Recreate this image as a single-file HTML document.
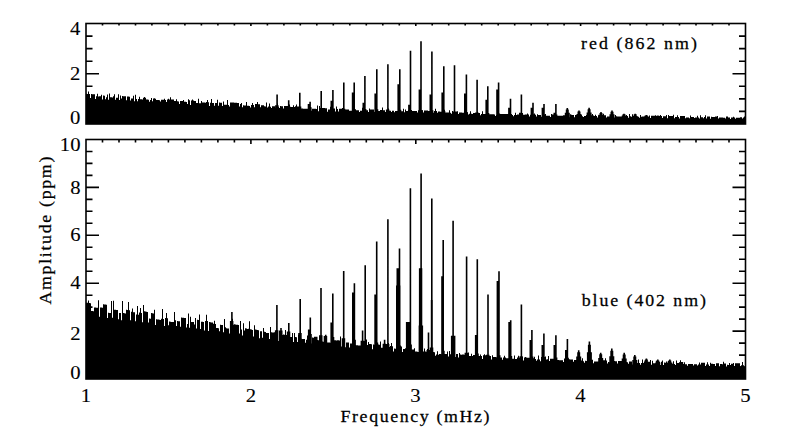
<!DOCTYPE html>
<html><head><meta charset="utf-8"><style>
html,body{margin:0;padding:0;background:#fff;}
svg{display:block;}
text{font-family:"Liberation Serif", serif;fill:#000;}
</style></head><body>
<svg width="797" height="438" viewBox="0 0 797 438">
<rect width="797" height="438" fill="#fff"/>
<path d="M86.0,124.0V93.8H87.0V93.9H88.0V91.5H89.0V94.0H90.0V98.4H91.0V94.1H92.0V94.2H93.0V94.3H94.0V94.3H95.0V99.0H96.0V96.3H97.0V93.7H98.0V96.4H99.0V96.2H100.0V96.3H101.0V94.7H102.0V99.4H103.0V95.6H104.0V95.7H105.0V99.2H106.0V97.3H107.0V94.4H108.0V99.7H109.0V93.6H110.0V97.3H111.0V97.3H112.0V97.4H113.0V96.2H114.0V94.3H115.0V99.7H116.0V97.8H117.0V97.8H118.0V94.2H119.0V99.9H120.0V95.6H121.0V98.5H122.0V96.1H123.0V96.2H124.0V96.2H125.0V96.3H126.0V100.3H127.0V96.5H128.0V96.6H129.0V96.7H130.0V100.5H131.0V98.4H132.0V98.5H133.0V95.7H134.0V101.2H135.0V94.8H136.0V99.0H137.0V101.3H138.0V99.1H139.0V96.8H140.0V99.2H141.0V99.3H142.0V99.4H143.0V97.7H144.0V97.0H145.0V97.8H146.0V99.5H147.0V99.6H148.0V99.7H149.0V101.7H150.0V100.0H151.0V98.0H152.0V101.3H153.0V98.6H154.0V98.2H155.0V98.7H156.0V100.0H157.0V100.1H158.0V100.1H159.0V100.2H160.0V101.6H161.0V99.7H162.0V99.7H163.0V99.8H164.0V98.7H165.0V99.9H166.0V102.1H167.0V99.4H168.0V98.8H169.0V99.5H170.0V97.3H171.0V99.5H172.0V99.6H173.0V99.6H174.0V101.1H175.0V101.1H176.0V99.2H177.0V101.3H178.0V101.4H179.0V104.0H180.0V101.0H181.0V101.1H182.0V101.1H183.0V100.0H184.0V101.8H185.0V101.8H186.0V101.9H187.0V103.9H188.0V99.2H189.0V100.2H190.0V105.0H191.0V100.4H192.0V99.5H193.0V100.5H194.0V100.9H195.0V101.0H196.0V103.0H197.0V103.1H198.0V98.8H199.0V103.2H200.0V103.3H201.0V101.0H202.0V102.5H203.0V102.6H204.0V102.6H205.0V102.7H206.0V102.1H207.0V99.9H208.0V102.2H209.0V106.0H210.0V102.8H211.0V99.0H212.0V102.9H213.0V103.0H214.0V105.8H215.0V103.1H216.0V103.1H217.0V99.7H218.0V105.8H219.0V102.6H220.0V102.7H221.0V102.7H222.0V106.1H223.0V101.4H224.0V104.7H225.0V104.8H226.0V104.8H227.0V99.9H228.0V104.9H229.0V106.4H230.0V102.5H231.0V102.5H232.0V102.6H233.0V102.6H234.0V102.7H235.0V102.8H236.0V102.8H237.0V102.9H238.0V102.9H239.0V106.5H240.0V103.9H241.0V103.0H242.0V107.2H243.0V105.3H244.0V105.4H245.0V105.4H246.0V102.1H247.0V105.8H248.0V105.8H249.0V105.9H250.0V107.5H251.0V105.0H252.0V102.9H253.0V105.0H254.0V107.2H255.0V104.0H256.0V104.1H257.0V102.1H258.0V104.2H259.0V104.2H260.0V107.3H261.0V105.2H262.0V105.3H263.0V105.3H264.0V106.3H265.0V106.4H266.0V102.5H267.0V107.4H268.0V106.6H269.0V103.5H270.0V106.7H271.0V108.1H272.0V106.2H273.0V106.2H274.0V106.3H275.0V107.8H276.0V106.7H277.0V103.4H278.0V106.8H279.0V108.1H280.0V106.1H281.0V106.2H282.0V106.3H283.0V108.4H284.0V106.0H285.0V106.0H286.0V106.1H287.0V108.3H288.0V106.9H289.0V104.6H290.0V107.0H291.0V107.1H292.0V106.9H293.0V105.2H294.0V107.0H295.0V106.3H296.0V104.4H297.0V106.4H298.0V106.5H299.0V106.5H300.0V109.4H301.0V108.5H302.0V108.6H303.0V108.7H304.0V108.7H305.0V108.8H306.0V108.8H307.0V108.8H308.0V108.9H309.0V106.4H310.0V109.0H311.0V110.7H312.0V108.7H313.0V108.7H314.0V108.7H315.0V108.8H316.0V108.9H317.0V105.6H318.0V111.2H319.0V106.1H320.0V107.9H321.0V108.0H322.0V108.0H323.0V108.1H324.0V108.1H325.0V108.2H326.0V108.3H327.0V111.7H328.0V109.4H329.0V109.5H330.0V106.8H331.0V111.6H332.0V108.6H333.0V108.6H334.0V108.6H335.0V111.6H336.0V106.6H337.0V108.9H338.0V111.4H339.0V108.7H340.0V108.7H341.0V108.7H342.0V108.1H343.0V111.6H344.0V109.4H345.0V109.4H346.0V109.4H347.0V109.4H348.0V109.5H349.0V110.7H350.0V110.7H351.0V110.8H352.0V112.0H353.0V109.7H354.0V109.7H355.0V109.7H356.0V110.2H357.0V110.2H358.0V110.3H359.0V112.0H360.0V110.8H361.0V110.8H362.0V107.8H363.0V110.8H364.0V110.8H365.0V112.1H366.0V110.3H367.0V110.3H368.0V112.0H369.0V108.6H370.0V109.6H371.0V109.6H372.0V109.6H373.0V109.6H374.0V111.9H375.0V110.8H376.0V108.0H377.0V110.9H378.0V110.9H379.0V110.9H380.0V110.1H381.0V110.1H382.0V107.6H383.0V110.2H384.0V110.2H385.0V112.0H386.0V110.6H387.0V110.6H388.0V108.5H389.0V110.7H390.0V110.7H391.0V112.0H392.0V110.8H393.0V110.8H394.0V112.2H395.0V111.0H396.0V111.1H397.0V111.1H398.0V112.4H399.0V111.2H400.0V111.2H401.0V111.3H402.0V111.3H403.0V108.7H404.0V112.2H405.0V109.6H406.0V110.9H407.0V110.9H408.0V110.2H409.0V110.2H410.0V110.2H411.0V112.2H412.0V111.1H413.0V111.1H414.0V111.1H415.0V111.1H416.0V111.1H417.0V112.6H418.0V110.2H419.0V110.3H420.0V110.3H421.0V110.3H422.0V110.3H423.0V112.5H424.0V110.4H425.0V110.4H426.0V110.5H427.0V110.5H428.0V111.1H429.0V111.1H430.0V111.2H431.0V108.5H432.0V111.3H433.0V112.7H434.0V111.0H435.0V108.8H436.0V111.1H437.0V112.8H438.0V111.6H439.0V111.6H440.0V111.7H441.0V111.7H442.0V111.8H443.0V113.6H444.0V109.7H445.0V112.6H446.0V112.6H447.0V112.6H448.0V112.6H449.0V110.3H450.0V112.7H451.0V113.8H452.0V110.9H453.0V111.8H454.0V111.4H455.0V111.5H456.0V111.5H457.0V111.3H458.0V114.1H459.0V112.5H460.0V112.6H461.0V112.6H462.0V112.7H463.0V112.7H464.0V114.3H465.0V112.9H466.0V113.0H467.0V113.0H468.0V114.5H469.0V113.7H470.0V111.3H471.0V113.8H472.0V113.9H473.0V112.9H474.0V112.9H475.0V113.0H476.0V112.8H477.0V111.7H478.0V112.9H479.0V113.0H480.0V115.3H481.0V113.9H482.0V111.3H483.0V114.0H484.0V114.1H485.0V114.1H486.0V115.6H487.0V114.1H488.0V114.1H489.0V114.2H490.0V114.2H491.0V114.2H492.0V114.3H493.0V114.3H494.0V114.4H495.0V116.0H496.0V114.9H497.0V114.9H498.0V115.0H499.0V115.0H500.0V113.9H501.0V113.9H502.0V113.9H503.0V113.9H504.0V113.9H505.0V114.1H506.0V114.1H507.0V114.1H508.0V114.2H509.0V116.3H510.0V115.1H511.0V115.1H512.0V115.1H513.0V116.2H514.0V114.9H515.0V112.8H516.0V115.0H517.0V114.5H518.0V114.5H519.0V114.5H520.0V114.5H521.0V116.6H522.0V113.1H523.0V114.8H524.0V114.8H525.0V114.6H526.0V114.6H527.0V113.6H528.0V114.4H529.0V116.5H530.0V114.8H531.0V114.8H532.0V114.9H533.0V114.6H534.0V113.5H535.0V114.7H536.0V116.6H537.0V114.2H538.0V114.9H539.0V114.9H540.0V114.9H541.0V116.7H542.0V113.4H543.0V114.8H544.0V114.8H545.0V113.9H546.0V115.8H547.0V115.8H548.0V115.8H549.0V115.8H550.0V117.0H551.0V113.9H552.0V114.4H553.0V114.4H554.0V116.7H555.0V115.6H556.0V115.6H557.0V115.7H558.0V115.7H559.0V115.7H560.0V115.7H561.0V115.7H562.0V115.7H563.0V115.2H564.0V115.2H565.0V115.2H566.0V115.2H567.0V115.2H568.0V115.2H569.0V117.2H570.0V114.2H571.0V114.8H572.0V114.9H573.0V114.9H574.0V117.2H575.0V115.1H576.0V115.1H577.0V115.2H578.0V115.2H579.0V117.1H580.0V116.2H581.0V114.9H582.0V116.2H583.0V117.1H584.0V116.1H585.0V116.1H586.0V115.0H587.0V115.0H588.0V115.1H589.0V115.3H590.0V115.3H591.0V115.3H592.0V114.1H593.0V115.5H594.0V116.1H595.0V114.7H596.0V116.1H597.0V117.6H598.0V115.3H599.0V115.3H600.0V115.3H601.0V115.3H602.0V115.4H603.0V113.8H604.0V115.2H605.0V115.2H606.0V117.5H607.0V116.6H608.0V116.6H609.0V116.6H610.0V115.5H611.0V115.5H612.0V115.1H613.0V115.6H614.0V117.6H615.0V115.1H616.0V116.3H617.0V116.4H618.0V116.6H619.0V116.6H620.0V116.6H621.0V116.7H622.0V116.7H623.0V115.9H624.0V115.9H625.0V115.9H626.0V115.0H627.0V115.9H628.0V117.8H629.0V114.1H630.0V116.3H631.0V116.7H632.0V114.2H633.0V117.9H634.0V116.7H635.0V115.7H636.0V116.7H637.0V116.7H638.0V116.8H639.0V117.7H640.0V114.9H641.0V116.7H642.0V116.4H643.0V116.4H644.0V116.4H645.0V116.4H646.0V117.0H647.0V117.0H648.0V117.0H649.0V115.5H650.0V118.0H651.0V115.7H652.0V115.8H653.0V115.8H654.0V115.8H655.0V115.3H656.0V116.2H657.0V116.2H658.0V118.0H659.0V116.1H660.0V115.0H661.0V116.1H662.0V118.1H663.0V116.2H664.0V116.2H665.0V116.2H666.0V114.9H667.0V118.2H668.0V114.9H669.0V115.9H670.0V115.9H671.0V116.0H672.0V116.0H673.0V114.8H674.0V118.2H675.0V116.9H676.0V116.9H677.0V115.2H678.0V116.9H679.0V118.4H680.0V116.0H681.0V116.0H682.0V116.1H683.0V116.1H684.0V116.1H685.0V118.3H686.0V117.4H687.0V117.4H688.0V117.4H689.0V118.2H690.0V115.5H691.0V116.9H692.0V116.9H693.0V116.9H694.0V118.1H695.0V117.5H696.0V117.5H697.0V115.8H698.0V117.5H699.0V118.6H700.0V115.3H701.0V117.2H702.0V117.2H703.0V118.2H704.0V116.9H705.0V115.3H706.0V118.5H707.0V116.6H708.0V116.6H709.0V116.6H710.0V118.7H711.0V116.8H712.0V116.9H713.0V116.9H714.0V116.9H715.0V116.6H716.0V116.6H717.0V115.9H718.0V118.4H719.0V117.4H720.0V117.4H721.0V117.4H722.0V117.6H723.0V117.7H724.0V117.7H725.0V118.6H726.0V116.6H727.0V116.6H728.0V117.6H729.0V117.6H730.0V118.9H731.0V117.6H732.0V117.6H733.0V116.8H734.0V117.6H735.0V118.8H736.0V117.7H737.0V117.7H738.0V117.7H739.0V117.7H740.0V117.3H741.0V117.3H742.0V118.6H743.0V117.4H744.0V116.4H745.0V124.0ZM276.3,124.0V94.5H277.9V124.0ZM275.1,124.0V105.2H278.6V124.0ZM287.9,124.0V100.2H289.5V124.0ZM286.7,124.0V105.9H290.2V124.0ZM299.0,124.0V92.8H300.6V124.0ZM297.8,124.0V106.6H301.3V124.0ZM309.3,124.0V101.7H310.9V124.0ZM307.7,124.0V104.0H310.9V124.0ZM308.1,124.0V107.2H311.6V124.0ZM320.4,124.0V90.9H322.0V124.0ZM319.2,124.0V107.9H322.7V124.0ZM332.1,124.0V90.0H333.7V124.0ZM330.5,124.0V100.7H333.7V124.0ZM330.9,124.0V108.5H334.4V124.0ZM343.0,124.0V82.6H344.6V124.0ZM341.8,124.0V108.7H345.3V124.0ZM353.4,124.0V82.6H355.0V124.0ZM351.8,124.0V92.5H355.0V124.0ZM352.2,124.0V108.9H355.7V124.0ZM364.1,124.0V76.1H365.7V124.0ZM362.5,124.0V102.8H365.7V124.0ZM362.9,124.0V109.1H366.4V124.0ZM376.0,124.0V69.3H377.6V124.0ZM374.4,124.0V93.5H377.6V124.0ZM374.8,124.0V109.3H378.3V124.0ZM387.1,124.0V64.2H388.7V124.0ZM385.9,124.0V109.5H389.4V124.0ZM399.0,124.0V69.3H400.6V124.0ZM397.4,124.0V84.3H400.6V124.0ZM397.8,124.0V109.7H401.3V124.0ZM409.7,124.0V50.8H411.3V124.0ZM408.1,124.0V104.8H411.3V124.0ZM408.5,124.0V109.9H412.0V124.0ZM420.2,124.0V41.2H421.8V124.0ZM418.6,124.0V89.4H421.8V124.0ZM419.0,124.0V109.9H422.5V124.0ZM431.1,124.0V51.4H432.7V124.0ZM429.5,124.0V94.5H432.7V124.0ZM429.9,124.0V110.3H433.4V124.0ZM443.0,124.0V66.2H444.6V124.0ZM441.4,124.0V92.5H444.6V124.0ZM441.8,124.0V110.9H445.3V124.0ZM453.7,124.0V65.2H455.3V124.0ZM452.5,124.0V111.4H456.0V124.0ZM465.6,124.0V74.4H467.2V124.0ZM464.0,124.0V93.5H467.2V124.0ZM464.4,124.0V112.0H467.9V124.0ZM476.3,124.0V79.8H477.9V124.0ZM475.1,124.0V112.6H478.6V124.0ZM487.0,124.0V86.3H488.6V124.0ZM485.4,124.0V99.7H488.6V124.0ZM485.8,124.0V113.1H489.3V124.0ZM497.8,124.0V82.6H499.4V124.0ZM496.2,124.0V89.4H499.4V124.0ZM496.6,124.0V113.6H500.1V124.0ZM509.7,124.0V98.7H511.3V124.0ZM508.1,124.0V107.7H511.3V124.0ZM508.5,124.0V113.9H512.0V124.0ZM520.6,124.0V94.5H522.2V124.0ZM519.0,124.0V112.7H522.2V124.0ZM519.4,124.0V114.1H522.9V124.0ZM532.2,124.0V102.7H533.8V124.0ZM530.6,124.0V107.7H533.8V124.0ZM531.0,124.0V114.3H534.5V124.0ZM543.2,124.0V103.9H544.8V124.0ZM541.6,124.0V107.7H544.8V124.0ZM542.0,124.0V114.4H545.5V124.0ZM555.1,124.0V103.9H556.7V124.0ZM553.5,124.0V112.7H556.7V124.0ZM553.9,124.0V114.6H557.4V124.0ZM566.5,124.0V108.0H568.1V124.0ZM564.8,124.0V112.7H569.8V124.0ZM565.8,124.0V109.4H568.8V124.0ZM565.3,124.0V114.8H568.8V124.0ZM578.2,124.0V110.4H579.8V124.0ZM576.5,124.0V113.9H581.5V124.0ZM577.5,124.0V111.5H580.5V124.0ZM577.0,124.0V115.0H580.5V124.0ZM588.3,124.0V107.7H589.9V124.0ZM586.6,124.0V112.6H591.6V124.0ZM587.6,124.0V109.2H590.6V124.0ZM587.1,124.0V115.2H590.6V124.0ZM600.2,124.0V112.0H601.8V124.0ZM598.5,124.0V114.8H603.5V124.0ZM599.5,124.0V112.9H602.5V124.0ZM599.0,124.0V115.3H602.5V124.0ZM611.2,124.0V110.6H612.8V124.0ZM609.5,124.0V114.2H614.5V124.0ZM610.5,124.0V111.7H613.5V124.0ZM610.0,124.0V115.4H613.5V124.0ZM623.2,124.0V113.7H624.8V124.0ZM621.5,124.0V115.8H626.5V124.0ZM622.5,124.0V114.3H625.5V124.0ZM622.0,124.0V115.5H625.5V124.0ZM634.4,124.0V113.7H636.0V124.0ZM632.7,124.0V115.9H637.7V124.0ZM633.7,124.0V114.3H636.7V124.0ZM633.2,124.0V115.7H636.7V124.0ZM645.6,124.0V114.9H647.2V124.0ZM643.9,124.0V116.5H648.9V124.0ZM644.9,124.0V115.4H647.9V124.0ZM644.4,124.0V115.8H647.9V124.0ZM657.1,124.0V115.4H658.7V124.0ZM655.4,124.0V116.8H660.4V124.0ZM656.4,124.0V115.8H659.4V124.0ZM655.9,124.0V115.9H659.4V124.0Z" fill="#000"/>
<path d="M86.0,379.0V302.7H87.0V302.8H88.0V300.5H89.0V303.1H90.0V303.3H91.0V311.0H92.0V311.1H93.0V311.2H94.0V307.4H95.0V307.6H96.0V307.7H97.0V307.8H98.0V300.2H99.0V316.8H100.0V307.5H101.0V307.6H102.0V307.8H103.0V304.3H104.0V304.4H105.0V304.6H106.0V304.7H107.0V318.1H108.0V312.8H109.0V312.9H110.0V313.0H111.0V301.1H112.0V317.7H113.0V300.8H114.0V309.7H115.0V309.8H116.0V310.0H117.0V310.1H118.0V319.2H119.0V312.9H120.0V313.1H121.0V320.2H122.0V301.0H123.0V313.0H124.0V313.2H125.0V313.4H126.0V309.8H127.0V310.0H128.0V302.1H129.0V310.3H130.0V320.2H131.0V311.8H132.0V308.5H133.0V312.2H134.0V312.3H135.0V321.3H136.0V314.4H137.0V306.0H138.0V314.7H139.0V312.6H140.0V308.1H141.0V313.0H142.0V322.3H143.0V305.1H144.0V311.3H145.0V311.5H146.0V311.7H147.0V311.9H148.0V322.6H149.0V318.5H150.0V318.7H151.0V313.1H152.0V313.3H153.0V313.5H154.0V309.7H155.0V325.0H156.0V319.3H157.0V319.5H158.0V319.6H159.0V319.8H160.0V320.0H161.0V318.7H162.0V308.9H163.0V319.0H164.0V326.0H165.0V318.0H166.0V313.1H167.0V318.3H168.0V325.3H169.0V321.6H170.0V321.7H171.0V321.9H172.0V322.0H173.0V322.1H174.0V312.1H175.0V320.2H176.0V326.0H177.0V321.0H178.0V321.2H179.0V321.3H180.0V326.8H181.0V317.6H182.0V317.7H183.0V317.8H184.0V318.0H185.0V318.1H186.0V327.6H187.0V323.9H188.0V313.4H189.0V327.8H190.0V316.7H191.0V321.9H192.0V322.0H193.0V322.1H194.0V324.5H195.0V318.0H196.0V328.4H197.0V319.7H198.0V319.9H199.0V314.4H200.0V328.9H201.0V321.7H202.0V321.8H203.0V321.9H204.0V330.6H205.0V320.9H206.0V314.8H207.0V321.1H208.0V331.0H209.0V322.1H210.0V322.3H211.0V322.4H212.0V322.5H213.0V323.8H214.0V320.8H215.0V324.0H216.0V328.0H217.0V328.1H218.0V328.3H219.0V331.2H220.0V324.8H221.0V324.9H222.0V325.0H223.0V332.3H224.0V319.0H225.0V327.3H226.0V328.3H227.0V328.4H228.0V328.5H229.0V333.4H230.0V324.5H231.0V324.6H232.0V318.8H233.0V324.8H234.0V324.3H235.0V324.6H236.0V324.7H237.0V324.8H238.0V325.0H239.0V333.4H240.0V321.1H241.0V329.5H242.0V335.4H243.0V323.3H244.0V330.5H245.0V328.3H246.0V328.6H247.0V328.9H248.0V328.7H249.0V321.2H250.0V329.3H251.0V329.6H252.0V329.9H253.0V336.6H254.0V325.2H255.0V329.4H256.0V329.7H257.0V330.0H258.0V330.3H259.0V338.3H260.0V331.2H261.0V331.3H262.0V337.7H263.0V327.9H264.0V331.8H265.0V331.9H266.0V332.9H267.0V333.0H268.0V333.1H269.0V338.9H270.0V327.1H271.0V332.3H272.0V332.4H273.0V332.5H274.0V332.3H275.0V332.4H276.0V332.5H277.0V332.6H278.0V341.1H279.0V331.5H280.0V334.7H281.0V334.9H282.0V335.0H283.0V334.6H284.0V334.7H285.0V330.0H286.0V334.9H287.0V335.1H288.0V341.6H289.0V336.8H290.0V336.9H291.0V337.0H292.0V333.1H293.0V341.9H294.0V333.0H295.0V337.1H296.0V337.2H297.0V342.0H298.0V334.7H299.0V335.9H300.0V343.5H301.0V338.8H302.0V338.9H303.0V339.0H304.0V339.1H305.0V342.8H306.0V339.8H307.0V335.6H308.0V340.0H309.0V340.2H310.0V340.3H311.0V343.4H312.0V337.6H313.0V337.7H314.0V337.8H315.0V337.9H316.0V340.0H317.0V340.1H318.0V340.2H319.0V340.3H320.0V340.5H321.0V345.2H322.0V341.6H323.0V341.7H324.0V341.8H325.0V341.9H326.0V345.6H327.0V342.5H328.0V342.5H329.0V342.6H330.0V342.7H331.0V345.5H332.0V339.9H333.0V340.0H334.0V340.2H335.0V340.3H336.0V340.4H337.0V340.2H338.0V340.3H339.0V340.5H340.0V336.4H341.0V346.6H342.0V341.1H343.0V341.2H344.0V340.4H345.0V347.3H346.0V342.4H347.0V342.5H348.0V342.6H349.0V347.4H350.0V343.5H351.0V343.6H352.0V343.7H353.0V343.8H354.0V343.9H355.0V345.1H356.0V345.2H357.0V345.3H358.0V345.4H359.0V345.5H360.0V345.6H361.0V345.8H362.0V345.9H363.0V342.0H364.0V348.0H365.0V344.8H366.0V339.4H367.0V345.0H368.0V342.1H369.0V344.0H370.0V344.1H371.0V344.2H372.0V349.3H373.0V344.6H374.0V344.7H375.0V344.8H376.0V350.2H377.0V343.6H378.0V344.5H379.0V344.7H380.0V341.6H381.0V347.7H382.0V347.8H383.0V350.2H384.0V344.2H385.0V346.8H386.0V350.2H387.0V346.9H388.0V343.0H389.0V347.1H390.0V346.0H391.0V342.9H392.0V346.3H393.0V351.4H394.0V348.6H395.0V348.7H396.0V345.1H397.0V348.9H398.0V349.0H399.0V347.0H400.0V347.1H401.0V346.6H402.0V352.0H403.0V348.9H404.0V349.1H405.0V348.3H406.0V348.4H407.0V348.6H408.0V348.7H409.0V349.1H410.0V346.3H411.0V349.4H412.0V349.5H413.0V349.6H414.0V348.2H415.0V351.5H416.0V351.6H417.0V351.8H418.0V351.9H419.0V352.0H420.0V352.2H421.0V354.6H422.0V351.2H423.0V351.4H424.0V348.6H425.0V351.6H426.0V351.8H427.0V349.1H428.0V351.9H429.0V352.0H430.0V352.1H431.0V352.3H432.0V349.6H433.0V352.0H434.0V352.2H435.0V355.8H436.0V354.6H437.0V351.2H438.0V354.8H439.0V354.0H440.0V354.1H441.0V354.2H442.0V352.7H443.0V354.3H444.0V353.9H445.0V354.0H446.0V354.1H447.0V351.6H448.0V356.6H449.0V351.1H450.0V354.3H451.0V354.4H452.0V357.1H453.0V355.4H454.0V355.5H455.0V357.1H456.0V354.0H457.0V354.1H458.0V357.4H459.0V353.0H460.0V354.6H461.0V354.7H462.0V354.6H463.0V354.6H464.0V354.7H465.0V357.9H466.0V355.8H467.0V355.9H468.0V352.5H469.0V356.0H470.0V356.0H471.0V353.8H472.0V355.9H473.0V354.9H474.0V355.0H475.0V355.1H476.0V355.1H477.0V358.4H478.0V355.9H479.0V356.0H480.0V354.6H481.0V356.1H482.0V359.0H483.0V355.2H484.0V354.2H485.0V355.3H486.0V359.0H487.0V355.7H488.0V355.8H489.0V355.9H490.0V355.9H491.0V359.4H492.0V355.3H493.0V357.0H494.0V357.1H495.0V357.1H496.0V357.2H497.0V357.2H498.0V357.3H499.0V357.4H500.0V357.4H501.0V357.4H502.0V359.8H503.0V357.6H504.0V355.8H505.0V357.6H506.0V358.3H507.0V358.3H508.0V358.3H509.0V358.4H510.0V359.8H511.0V358.8H512.0V358.8H513.0V358.8H514.0V355.5H515.0V358.9H516.0V358.9H517.0V357.6H518.0V355.7H519.0V357.7H520.0V360.3H521.0V357.1H522.0V357.1H523.0V360.6H524.0V357.6H525.0V357.0H526.0V357.6H527.0V357.7H528.0V357.7H529.0V357.8H530.0V360.3H531.0V358.2H532.0V358.2H533.0V358.2H534.0V356.7H535.0V359.1H536.0V360.8H537.0V359.4H538.0V355.6H539.0V359.5H540.0V361.2H541.0V356.9H542.0V359.5H543.0V359.5H544.0V361.1H545.0V356.6H546.0V359.4H547.0V359.2H548.0V356.1H549.0V361.0H550.0V358.7H551.0V358.7H552.0V358.7H553.0V358.8H554.0V358.8H555.0V361.4H556.0V359.9H557.0V359.9H558.0V360.0H559.0V360.2H560.0V360.3H561.0V360.3H562.0V360.3H563.0V362.1H564.0V358.4H565.0V358.5H566.0V358.5H567.0V358.6H568.0V359.3H569.0V359.3H570.0V359.4H571.0V359.4H572.0V359.4H573.0V361.8H574.0V359.9H575.0V359.9H576.0V360.0H577.0V360.0H578.0V362.2H579.0V360.3H580.0V360.3H581.0V360.4H582.0V358.3H583.0V361.2H584.0V362.8H585.0V360.8H586.0V360.9H587.0V360.9H588.0V359.6H589.0V359.7H590.0V359.7H591.0V359.8H592.0V359.8H593.0V363.3H594.0V361.5H595.0V361.5H596.0V361.5H597.0V361.6H598.0V361.6H599.0V361.5H600.0V361.5H601.0V359.8H602.0V362.9H603.0V360.3H604.0V360.3H605.0V358.3H606.0V360.4H607.0V363.4H608.0V362.1H609.0V362.2H610.0V362.2H611.0V363.4H612.0V361.1H613.0V358.8H614.0V361.1H615.0V361.2H616.0V361.2H617.0V363.5H618.0V361.0H619.0V361.1H620.0V361.1H621.0V361.1H622.0V361.2H623.0V363.8H624.0V362.0H625.0V362.1H626.0V362.1H627.0V362.2H628.0V363.8H629.0V361.5H630.0V361.5H631.0V361.5H632.0V364.4H633.0V362.2H634.0V362.3H635.0V360.7H636.0V364.6H637.0V363.0H638.0V359.4H639.0V363.1H640.0V364.7H641.0V362.9H642.0V359.6H643.0V363.0H644.0V363.0H645.0V364.7H646.0V360.3H647.0V362.6H648.0V361.7H649.0V361.7H650.0V360.0H651.0V364.8H652.0V360.7H653.0V363.2H654.0V363.2H655.0V363.2H656.0V363.1H657.0V363.1H658.0V363.1H659.0V361.7H660.0V365.1H661.0V361.8H662.0V360.6H663.0V365.0H664.0V362.6H665.0V362.7H666.0V361.6H667.0V362.7H668.0V362.9H669.0V363.0H670.0V363.0H671.0V365.1H672.0V363.8H673.0V361.3H674.0V363.9H675.0V365.1H676.0V360.4H677.0V363.0H678.0V363.0H679.0V362.2H680.0V360.2H681.0V365.6H682.0V364.2H683.0V364.2H684.0V362.2H685.0V364.3H686.0V364.3H687.0V365.8H688.0V364.0H689.0V364.1H690.0V364.1H691.0V364.1H692.0V364.1H693.0V365.6H694.0V364.2H695.0V364.2H696.0V364.3H697.0V365.4H698.0V364.4H699.0V362.6H700.0V364.4H701.0V362.7H702.0V362.7H703.0V362.7H704.0V362.8H705.0V365.9H706.0V364.4H707.0V362.3H708.0V364.4H709.0V366.1H710.0V362.8H711.0V363.8H712.0V363.8H713.0V363.9H714.0V363.9H715.0V366.0H716.0V363.3H717.0V363.3H718.0V363.3H719.0V366.2H720.0V364.1H721.0V364.1H722.0V364.2H723.0V361.7H724.0V363.5H725.0V363.5H726.0V366.5H727.0V364.8H728.0V364.9H729.0V362.9H730.0V364.9H731.0V363.7H732.0V363.7H733.0V363.1H734.0V366.1H735.0V363.2H736.0V363.2H737.0V363.2H738.0V363.3H739.0V363.3H740.0V366.2H741.0V365.3H742.0V361.9H743.0V365.3H744.0V366.6H745.0V379.0ZM231.1,379.0V311.9H232.7V379.0ZM229.9,379.0V321.1H233.4V379.0ZM276.1,379.0V305.0H277.7V379.0ZM274.9,379.0V330.2H278.4V379.0ZM280.2,379.0V328.0H281.8V379.0ZM279.0,379.0V330.6H282.5V379.0ZM288.0,379.0V323.0H289.6V379.0ZM286.8,379.0V331.6H290.3V379.0ZM299.4,379.0V299.0H301.0V379.0ZM298.2,379.0V332.9H301.7V379.0ZM309.5,379.0V317.6H311.1V379.0ZM307.9,379.0V329.5H311.1V379.0ZM308.3,379.0V334.1H311.8V379.0ZM315.2,379.0V336.7H316.8V379.0ZM314.0,379.0V336.7H317.5V379.0ZM320.2,379.0V288.0H321.8V379.0ZM319.0,379.0V335.3H322.5V379.0ZM324.9,379.0V334.7H326.5V379.0ZM323.7,379.0V335.9H327.2V379.0ZM332.0,379.0V293.6H333.6V379.0ZM330.4,379.0V322.4H333.6V379.0ZM330.8,379.0V336.9H334.3V379.0ZM342.9,379.0V271.0H344.5V379.0ZM341.7,379.0V338.3H345.2V379.0ZM353.6,379.0V283.3H355.2V379.0ZM352.0,379.0V292.6H355.2V379.0ZM352.4,379.0V339.7H355.9V379.0ZM361.8,379.0V330.6H363.4V379.0ZM360.6,379.0V340.8H364.1V379.0ZM364.4,379.0V265.3H366.0V379.0ZM363.2,379.0V341.1H366.7V379.0ZM375.9,379.0V241.6H377.5V379.0ZM374.3,379.0V294.6H377.5V379.0ZM374.7,379.0V342.6H378.2V379.0ZM383.8,379.0V339.8H385.4V379.0ZM382.6,379.0V343.7H386.1V379.0ZM387.1,379.0V219.3H388.7V379.0ZM385.9,379.0V344.0H389.4V379.0ZM398.7,379.0V248.4H400.3V379.0ZM396.5,379.0V268.3H400.3V379.0ZM396.0,379.0V285.4H400.5V379.0ZM397.5,379.0V345.6H401.0V379.0ZM409.6,379.0V188.2H411.2V379.0ZM405.9,379.0V322.0H411.2V379.0ZM408.4,379.0V344.4H411.9V379.0ZM420.3,379.0V173.4H421.9V379.0ZM418.9,379.0V268.3H422.3V379.0ZM418.6,379.0V325.4H423.1V379.0ZM419.1,379.0V344.9H422.6V379.0ZM427.7,379.0V332.5H429.3V379.0ZM426.5,379.0V349.9H430.0V379.0ZM431.0,379.0V198.6H432.6V379.0ZM430.8,379.0V300.0H432.8V379.0ZM429.8,379.0V347.5H433.3V379.0ZM442.4,379.0V240.1H444.0V379.0ZM441.2,379.0V276.3H444.0V379.0ZM441.2,379.0V350.8H444.7V379.0ZM452.3,379.0V220.8H453.9V379.0ZM450.9,379.0V335.7H455.4V379.0ZM451.1,379.0V350.3H454.6V379.0ZM465.8,379.0V256.4H467.4V379.0ZM464.6,379.0V352.8H468.1V379.0ZM476.5,379.0V259.3H478.1V379.0ZM474.9,379.0V335.0H478.1V379.0ZM475.3,379.0V353.5H478.8V379.0ZM487.2,379.0V294.4H488.8V379.0ZM486.0,379.0V354.7H489.5V379.0ZM498.2,379.0V271.2H499.8V379.0ZM496.6,379.0V281.0H499.8V379.0ZM497.0,379.0V355.2H500.5V379.0ZM509.9,379.0V320.3H511.5V379.0ZM508.3,379.0V322.0H511.5V379.0ZM508.7,379.0V355.9H512.2V379.0ZM520.6,379.0V304.4H522.2V379.0ZM519.4,379.0V356.2H522.9V379.0ZM531.1,379.0V330.0H532.7V379.0ZM529.5,379.0V340.0H532.7V379.0ZM529.9,379.0V356.6H533.4V379.0ZM543.1,379.0V333.5H544.7V379.0ZM541.5,379.0V345.0H544.7V379.0ZM541.9,379.0V357.0H545.4V379.0ZM555.1,379.0V335.2H556.7V379.0ZM553.5,379.0V345.0H556.7V379.0ZM553.9,379.0V357.4H557.4V379.0ZM566.6,379.0V339.0H568.2V379.0ZM565.0,379.0V350.0H568.2V379.0ZM565.4,379.0V357.8H568.9V379.0ZM577.9,379.0V350.3H579.5V379.0ZM576.2,379.0V356.5H581.2V379.0ZM577.2,379.0V352.2H580.2V379.0ZM576.7,379.0V358.2H580.2V379.0ZM588.6,379.0V341.5H590.2V379.0ZM586.9,379.0V352.3H591.9V379.0ZM587.9,379.0V344.7H590.9V379.0ZM587.4,379.0V358.6H590.9V379.0ZM599.9,379.0V352.7H601.5V379.0ZM598.2,379.0V358.1H603.2V379.0ZM599.2,379.0V354.3H602.2V379.0ZM598.7,379.0V359.0H602.2V379.0ZM611.0,379.0V348.4H612.6V379.0ZM609.3,379.0V356.2H614.3V379.0ZM610.3,379.0V350.7H613.3V379.0ZM609.8,379.0V359.4H613.3V379.0ZM623.4,379.0V352.7H625.0V379.0ZM621.7,379.0V358.6H626.7V379.0ZM622.7,379.0V354.5H625.7V379.0ZM622.2,379.0V359.9H625.7V379.0ZM634.0,379.0V355.1H635.6V379.0ZM632.3,379.0V360.0H637.3V379.0ZM633.3,379.0V356.6H636.3V379.0ZM632.8,379.0V360.3H636.3V379.0ZM645.6,379.0V358.4H647.2V379.0ZM643.9,379.0V361.8H648.9V379.0ZM644.9,379.0V359.4H647.9V379.0ZM644.4,379.0V360.6H647.9V379.0ZM657.0,379.0V359.6H658.6V379.0ZM655.3,379.0V362.5H660.3V379.0ZM656.3,379.0V360.5H659.3V379.0ZM655.8,379.0V360.8H659.3V379.0ZM669.0,379.0V359.6H670.6V379.0ZM667.3,379.0V362.6H672.3V379.0ZM668.3,379.0V360.5H671.3V379.0ZM667.8,379.0V361.1H671.3V379.0ZM680.9,379.0V362.0H682.5V379.0ZM679.2,379.0V363.9H684.2V379.0ZM680.2,379.0V362.6H683.2V379.0ZM679.7,379.0V362.0H683.2V379.0Z" fill="#000"/>
<rect x="86.0" y="23.5" width="659.5" height="100.5" fill="none" stroke="#000" stroke-width="1.6"/>
<rect x="86.0" y="139.5" width="659.5" height="239.5" fill="none" stroke="#000" stroke-width="1.6"/>
<path d="M86.0,111.4h6.5M745.5,111.4h-6.5M86.0,98.9h6.5M745.5,98.9h-6.5M86.0,86.3h6.5M745.5,86.3h-6.5M86.0,73.8h13M745.5,73.8h-13M86.0,61.2h6.5M745.5,61.2h-6.5M86.0,48.6h6.5M745.5,48.6h-6.5M86.0,36.1h6.5M745.5,36.1h-6.5M86.0,367.0h6.5M745.5,367.0h-6.5M86.0,355.1h6.5M745.5,355.1h-6.5M86.0,343.1h6.5M745.5,343.1h-6.5M86.0,331.1h13M745.5,331.1h-13M86.0,319.1h6.5M745.5,319.1h-6.5M86.0,307.1h6.5M745.5,307.1h-6.5M86.0,295.2h6.5M745.5,295.2h-6.5M86.0,283.2h13M745.5,283.2h-13M86.0,271.2h6.5M745.5,271.2h-6.5M86.0,259.2h6.5M745.5,259.2h-6.5M86.0,247.3h6.5M745.5,247.3h-6.5M86.0,235.3h13M745.5,235.3h-13M86.0,223.3h6.5M745.5,223.3h-6.5M86.0,211.3h6.5M745.5,211.3h-6.5M86.0,199.4h6.5M745.5,199.4h-6.5M86.0,187.4h13M745.5,187.4h-13M86.0,175.4h6.5M745.5,175.4h-6.5M86.0,163.4h6.5M745.5,163.4h-6.5M86.0,151.5h6.5M745.5,151.5h-6.5M102.5,23.5v2M102.5,124.0v-2M119.0,23.5v2M119.0,124.0v-2M135.5,23.5v2M135.5,124.0v-2M151.9,23.5v2M151.9,124.0v-2M168.4,23.5v2M168.4,124.0v-2M184.9,23.5v2M184.9,124.0v-2M201.4,23.5v2M201.4,124.0v-2M217.9,23.5v2M217.9,124.0v-2M234.4,23.5v2M234.4,124.0v-2M250.9,23.5v2.5M250.9,124.0v-2.5M267.4,23.5v2M267.4,124.0v-2M283.9,23.5v2M283.9,124.0v-2M300.3,23.5v2M300.3,124.0v-2M316.8,23.5v2M316.8,124.0v-2M333.3,23.5v2M333.3,124.0v-2M349.8,23.5v2M349.8,124.0v-2M366.3,23.5v2M366.3,124.0v-2M382.8,23.5v2M382.8,124.0v-2M399.3,23.5v2M399.3,124.0v-2M415.8,23.5v2.5M415.8,124.0v-2.5M432.2,23.5v2M432.2,124.0v-2M448.7,23.5v2M448.7,124.0v-2M465.2,23.5v2M465.2,124.0v-2M481.7,23.5v2M481.7,124.0v-2M498.2,23.5v2M498.2,124.0v-2M514.7,23.5v2M514.7,124.0v-2M531.2,23.5v2M531.2,124.0v-2M547.7,23.5v2M547.7,124.0v-2M564.1,23.5v2M564.1,124.0v-2M580.6,23.5v2.5M580.6,124.0v-2.5M597.1,23.5v2M597.1,124.0v-2M613.6,23.5v2M613.6,124.0v-2M630.1,23.5v2M630.1,124.0v-2M646.6,23.5v2M646.6,124.0v-2M663.1,23.5v2M663.1,124.0v-2M679.5,23.5v2M679.5,124.0v-2M696.0,23.5v2M696.0,124.0v-2M712.5,23.5v2M712.5,124.0v-2M729.0,23.5v2M729.0,124.0v-2M102.5,139.5v3M102.5,379.0v-3M119.0,139.5v3M119.0,379.0v-3M135.5,139.5v3M135.5,379.0v-3M151.9,139.5v3M151.9,379.0v-3M168.4,139.5v3M168.4,379.0v-3M184.9,139.5v3M184.9,379.0v-3M201.4,139.5v3M201.4,379.0v-3M217.9,139.5v3M217.9,379.0v-3M234.4,139.5v3M234.4,379.0v-3M250.9,139.5v4.5M250.9,379.0v-4.5M267.4,139.5v3M267.4,379.0v-3M283.9,139.5v3M283.9,379.0v-3M300.3,139.5v3M300.3,379.0v-3M316.8,139.5v3M316.8,379.0v-3M333.3,139.5v3M333.3,379.0v-3M349.8,139.5v3M349.8,379.0v-3M366.3,139.5v3M366.3,379.0v-3M382.8,139.5v3M382.8,379.0v-3M399.3,139.5v3M399.3,379.0v-3M415.8,139.5v4.5M415.8,379.0v-4.5M432.2,139.5v3M432.2,379.0v-3M448.7,139.5v3M448.7,379.0v-3M465.2,139.5v3M465.2,379.0v-3M481.7,139.5v3M481.7,379.0v-3M498.2,139.5v3M498.2,379.0v-3M514.7,139.5v3M514.7,379.0v-3M531.2,139.5v3M531.2,379.0v-3M547.7,139.5v3M547.7,379.0v-3M564.1,139.5v3M564.1,379.0v-3M580.6,139.5v4.5M580.6,379.0v-4.5M597.1,139.5v3M597.1,379.0v-3M613.6,139.5v3M613.6,379.0v-3M630.1,139.5v3M630.1,379.0v-3M646.6,139.5v3M646.6,379.0v-3M663.1,139.5v3M663.1,379.0v-3M679.5,139.5v3M679.5,379.0v-3M696.0,139.5v3M696.0,379.0v-3M712.5,139.5v3M712.5,379.0v-3M729.0,139.5v3M729.0,379.0v-3" stroke="#000" stroke-width="1.6" fill="none"/>
<g transform="translate(80.3,34.5) scale(1.15,1)"><text x="0" y="0" font-size="18" text-anchor="end" stroke="#000" stroke-width="0.1">4</text></g>
<g transform="translate(80.3,79.8) scale(1.15,1)"><text x="0" y="0" font-size="18" text-anchor="end" stroke="#000" stroke-width="0.1">2</text></g>
<g transform="translate(80.3,124.2) scale(1.15,1)"><text x="0" y="0" font-size="18" text-anchor="end" stroke="#000" stroke-width="0.1">0</text></g>
<g transform="translate(80.5,150.5) scale(1.15,1)"><text x="0" y="0" font-size="18" text-anchor="end" stroke="#000" stroke-width="0.1">10</text></g>
<g transform="translate(80.5,193.5) scale(1.15,1)"><text x="0" y="0" font-size="18" text-anchor="end" stroke="#000" stroke-width="0.1">8</text></g>
<g transform="translate(80.5,240.5) scale(1.15,1)"><text x="0" y="0" font-size="18" text-anchor="end" stroke="#000" stroke-width="0.1">6</text></g>
<g transform="translate(80.5,288.5) scale(1.15,1)"><text x="0" y="0" font-size="18" text-anchor="end" stroke="#000" stroke-width="0.1">4</text></g>
<g transform="translate(80.5,339.5) scale(1.15,1)"><text x="0" y="0" font-size="18" text-anchor="end" stroke="#000" stroke-width="0.1">2</text></g>
<g transform="translate(80.5,379.2) scale(1.15,1)"><text x="0" y="0" font-size="18" text-anchor="end" stroke="#000" stroke-width="0.1">0</text></g>
<g transform="translate(86,402) scale(1.15,1)"><text x="0" y="0" font-size="18" text-anchor="middle" stroke="#000" stroke-width="0.1">1</text></g>
<g transform="translate(251,402) scale(1.15,1)"><text x="0" y="0" font-size="18" text-anchor="middle" stroke="#000" stroke-width="0.1">2</text></g>
<g transform="translate(415.5,402) scale(1.15,1)"><text x="0" y="0" font-size="18" text-anchor="middle" stroke="#000" stroke-width="0.1">3</text></g>
<g transform="translate(580.5,402) scale(1.15,1)"><text x="0" y="0" font-size="18" text-anchor="middle" stroke="#000" stroke-width="0.1">4</text></g>
<g transform="translate(745.5,402) scale(1.15,1)"><text x="0" y="0" font-size="18" text-anchor="middle" stroke="#000" stroke-width="0.1">5</text></g>
<g transform="translate(340.5,421.6) scale(1.05,1)"><text x="0" y="0" font-size="17" textLength="141.90" lengthAdjust="spacing" stroke="#000" stroke-width="0.25">Frequency (mHz)</text></g>
<g transform="translate(50.5,304.6) rotate(-90) scale(1.05,1)"><text x="0" y="0" font-size="17" textLength="140.95" lengthAdjust="spacing" stroke="#000" stroke-width="0.25">Amplitude (ppm)</text></g>
<g transform="translate(581,49) scale(1.05,1)"><text x="0" y="0" font-size="17" textLength="110.48" lengthAdjust="spacing" stroke="#000" stroke-width="0.25">red (862 nm)</text></g>
<g transform="translate(581.7,306.1) scale(1.05,1)"><text x="0" y="0" font-size="17" textLength="118.38" lengthAdjust="spacing" stroke="#000" stroke-width="0.25">blue (402 nm)</text></g>

</svg>
</body></html>
